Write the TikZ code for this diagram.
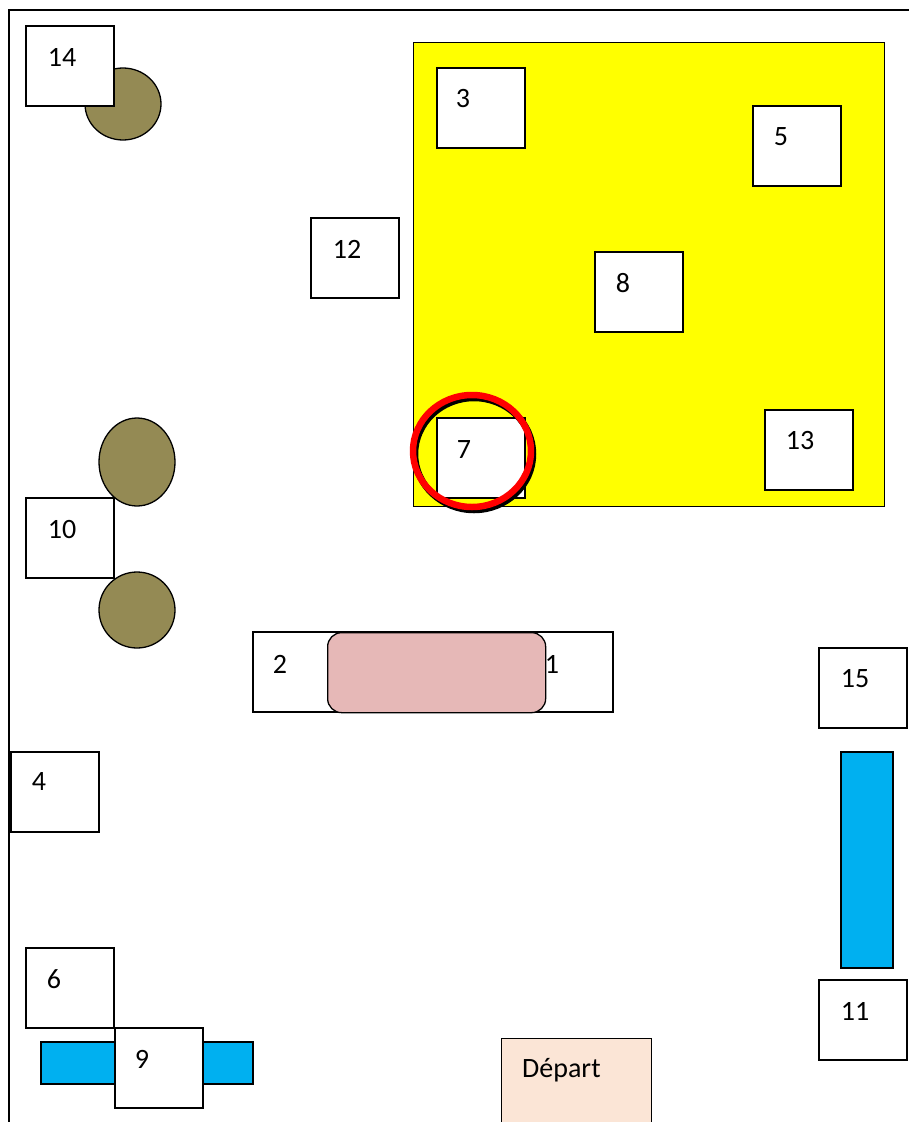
\documentclass[tikz,border=0pt]{standalone}
\usepackage{fontspec}
\setmainfont{Carlito}
\usetikzlibrary{shapes.geometric}
\definecolor{olive}{HTML}{948A54}
\definecolor{pinkbox}{HTML}{E6B8B7}
\definecolor{skyblue}{HTML}{00B0F0}
\definecolor{peach}{HTML}{FBE5D6}
\definecolor{zoneyellow}{RGB}{255,255,0}
\tikzset{
  edge/.style={draw=black, line width=1.3pt},
  box/.style={edge, fill=white, rectangle, minimum width=88pt, minimum height=80pt, inner sep=0pt, outer sep=0pt},
  lbl/.style={inner sep=0pt, font=\fontsize{28}{32}\selectfont},
  tree/.style={edge, fill=olive, ellipse, inner sep=0pt},
  bar/.style={edge, fill=skyblue, rectangle, inner sep=0pt, outer sep=0pt},
}
\begin{document}
\begin{tikzpicture}[x=1pt,y=-1pt]
\useasboundingbox (0,0) rectangle (909,1122);
% frame
\coordinate (tl) at (9,10);
\coordinate (tr) at (909,10);
\coordinate (bl) at (9,1122);
\draw[edge] (tr) -- (tl) -- (bl);
% yellow zone
\node[edge, fill=zoneyellow, rectangle, minimum width=471pt, minimum height=464pt, inner sep=0pt, anchor=north west] (zone) at (413,42) {};
% trees
\node[tree, minimum width=76pt, minimum height=72pt] (t14) at (123,104) {};
\node[tree, minimum width=76pt, minimum height=88pt] (t10a) at (137,462) {};
\node[tree, minimum width=76pt, minimum height=76pt] (t10b) at (137,610) {};
% blue bars
\node[bar, minimum width=212pt, minimum height=42pt, anchor=north west] (bar9) at (41,1042) {};
\node[bar, minimum width=52pt, minimum height=216pt, anchor=north west] (bar15) at (841,752) {};
% boxes
\node[box, anchor=north west] (b14) at (26,26) {};
\node[box, anchor=north west] (b3) at (437,68) {};
\node[box, anchor=north west] (b5) at (753,106) {};
\node[box, anchor=north west] (b12) at (311,218) {};
\node[box, anchor=north west] (b8) at (595,252) {};
\node[box, anchor=north west] (b13) at (765,410) {};
\node[box, anchor=north west] (b7) at (437,418) {};
\node[box, anchor=north west] (b10) at (26,498) {};
\node[box, anchor=north west, minimum width=360pt] (b21) at (253,632) {};
\node[edge, fill=pinkbox, rectangle, rounded corners=14pt, minimum width=218pt, minimum height=80pt, inner sep=0pt, anchor=north west] (table) at (327,632) {};
\node[box, anchor=north west] (b15) at (819,648) {};
\node[box, anchor=north west] (b4) at (11,752) {};
\node[box, anchor=north west] (b6) at (26,948) {};
\node[box, anchor=north west] (b11) at (819,980) {};
\node[box, anchor=north west] (b9) at (115,1028) {};
\node[edge, fill=peach, rectangle, minimum width=150pt, minimum height=100pt, inner sep=0pt, anchor=north west] (start) at (501,1038) {};
% labels
\node[lbl] (l14) at (62,57) {14};
\node[lbl] (l3) at (463,99) {3};
\node[lbl] (l5) at (781,137) {5};
\node[lbl] (l12) at (347,249) {12};
\node[lbl] (l8) at (623,283) {8};
\node[lbl] (l7) at (464,450) {7};
\node[lbl] (l13) at (800,441) {13};
\node[lbl] (l10) at (62,530) {10};
\node[lbl] (l2) at (280,664) {2};
\node[lbl] (l1) at (552,664) {1};
\node[lbl] (l15) at (855,679) {15};
\node[lbl] (l4) at (39,782) {4};
\node[lbl] (l6) at (54,979) {6};
\node[lbl] (l11) at (855,1011) {11};
\node[lbl] (l9) at (142,1059) {9};
\node[lbl, anchor=base west] (lstart) at (522,1077) {Départ};
% red marker circle with shadow
\node[draw=black, line width=6.5pt, ellipse, minimum width=118pt, minimum height=112pt, inner sep=0pt] (mark7s) at (474,454) {};
\node[draw=red, line width=6.5pt, ellipse, minimum width=118pt, minimum height=112pt, inner sep=0pt] (mark7) at (472,451) {};
\end{tikzpicture}
\end{document}
